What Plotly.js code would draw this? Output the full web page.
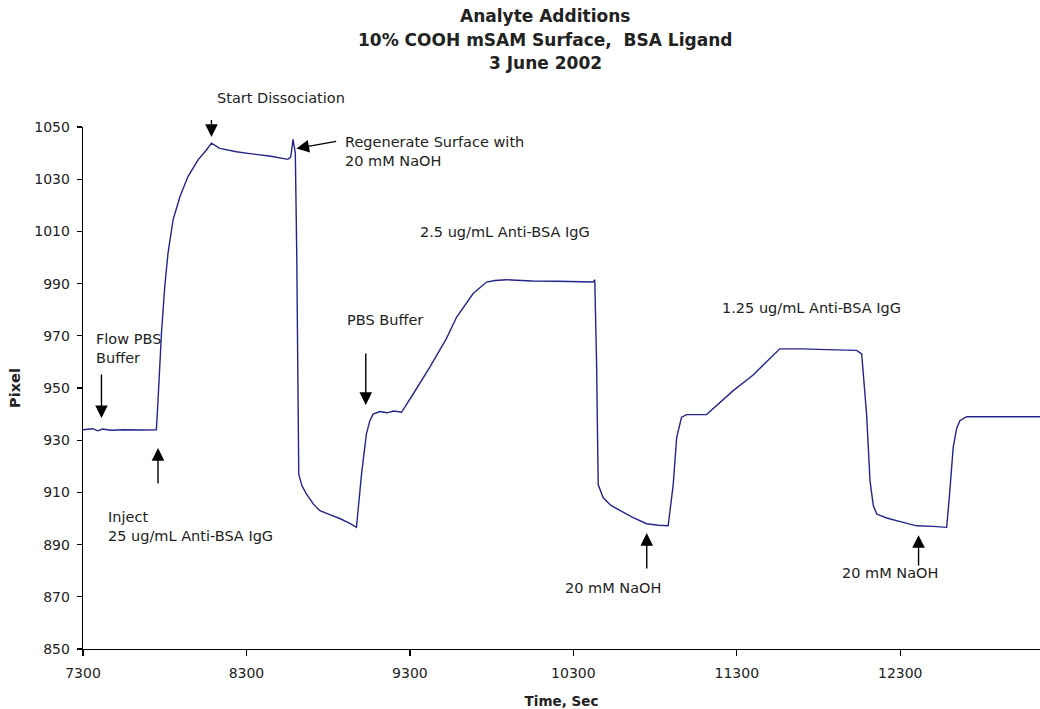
<!DOCTYPE html>
<html>
<head>
<meta charset="utf-8">
<script src="https://cdn.plot.ly/plotly-3.0.1.min.js"></script>
<style>html,body{margin:0;padding:0;background:#fff}#chart{width:1040px;height:709px}</style>
</head>
<body>
<div id="chart"></div>
<script>
// Time (s) and detector pixel readings
const timeSec = [
  7300, 7360, 7390, 7420, 7470, 7550, 7650, 7749, 7759, 7780, 7800, 7820, 7851, 7893, 7942,
  8004, 8055, 8086, 8136, 8239, 8320, 8450, 8553, 8571, 8585, 8599, 8608, 8614,
  8620, 8640, 8667, 8710, 8749, 8810, 8871, 8930, 8973, 9004, 9034, 9055, 9075, 9116, 9160,
  9200, 9249, 9320, 9422, 9524, 9586, 9687, 9769, 9820, 9891, 9950, 10050, 10197, 10330, 10421,
  10431, 10442, 10452, 10482, 10530, 10585, 10660, 10748, 10820, 10880, 10911, 10932, 10962, 10993, 11050,
  11115, 11278, 11400, 11563, 11700, 11850, 12033, 12064, 12094, 12115, 12135, 12156, 12217, 12300, 12400,
  12500, 12584, 12600, 12624, 12645, 12665, 12706, 12800, 13000, 13155
];
const pixelValue = [
  934.0, 934.4, 933.6, 934.3, 933.8, 934.0, 933.9, 934.0, 945.3, 970.9, 988.8, 1001.6, 1014.4, 1023.3, 1031.0,
  1037.4, 1041.2, 1043.8, 1041.8, 1040.5, 1039.8, 1038.8, 1037.6, 1038.5, 1045.3, 1040.0, 1000.0, 940.0,
  917.0, 912.5, 909.4, 905.5, 903.0, 901.5, 900.0, 898.2, 896.6, 917.0, 932.4, 937.5, 940.0, 941.0, 940.5,
  941.2, 940.7, 947.7, 958.0, 969.0, 977.2, 986.2, 990.6, 991.2, 991.5, 991.3, 991.0, 990.9, 990.7, 990.6,
  991.5, 960.0, 913.0, 908.0, 905.0, 903.0, 900.5, 898.0, 897.4, 897.2, 913.0, 931.0, 938.8, 939.8, 939.8,
  939.8, 949.0, 955.0, 965.0, 965.0, 964.7, 964.4, 963.1, 940.0, 914.5, 905.0, 901.7, 900.2, 898.8, 897.2,
  897.0, 896.6, 908.0, 927.3, 934.5, 937.5, 939.0, 939.0, 939.0, 939.0
];

const titleLines = ["Analyte Additions", "10% COOH mSAM Surface,  BSA Ligand", "3 June 2002"];
const yTicks = [850, 870, 890, 910, 930, 950, 970, 990, 1010, 1030, 1050];
const xTicks = [7300, 8300, 9300, 10300, 11300, 12300];

// Annotation labels and the points they refer to
const noteText = [
  "Flow PBS<br>Buffer",
  "Inject<br>25 ug/mL Anti-BSA IgG",
  "Regenerate Surface with<br>20 mM NaOH",
  "2.5 ug/mL Anti-BSA IgG",
  "PBS Buffer",
  "1.25 ug/mL Anti-BSA IgG",
  "20 mM NaOH",
  "20 mM NaOH"
];
const noteX = [7365, 7443, 8891, 9350, 8900, 11195, 10235, 11929];
const noteY = [965.1, 896.9, 1040.8, 1009.9, 976.0, 980.7, 873.4, 879.1];
const topNote = "Start Dissociation";
const topNoteX = 8106;
// arrows: head (x,y) and tail (x,y)
const arrowHeadX = [7413, 7759, 8086, 8606, 9030, 10749, 12412];
const arrowHeadY = [938.5, 927.0, 1046.2, 1041.8, 943.5, 894.4, 893.6];
const arrowTailX = [7413, 7759, 8086, 8858, 9030, 10749, 12412];
const arrowTailY = [955.7, 912.8, 1053.3, 1044.6, 963.8, 880.3, 881.4];

const FONT = "DejaVu Sans, Arial, sans-serif";
const annFont = {family: FONT, size: 14.5, color: "#222"};

const annotations = [];
titleLines.forEach((t, i) => {
  annotations.push({
    xref: "paper", yref: "paper", x: 0.483, y: (649 - (16 + i * 23.5)) / 522,
    text: "<b>" + t + "</b>", showarrow: false, xanchor: "center", yanchor: "middle",
    font: {family: FONT, size: 17, color: "#222"}
  });
});
noteText.forEach((t, i) => {
  annotations.push({
    xref: "x", yref: "y", x: noteX[i], y: noteY[i], text: t, showarrow: false,
    xanchor: "left", yanchor: "middle", align: "left", font: annFont
  });
});
annotations.push({
  xref: "x", yref: "paper", x: topNoteX, y: (649 - 98) / 522, text: topNote,
  showarrow: false, xanchor: "left", yanchor: "middle", font: annFont
});
arrowHeadX.forEach((hx, i) => {
  annotations.push({
    xref: "x", yref: "y", axref: "x", ayref: "y",
    x: hx, y: arrowHeadY[i], ax: arrowTailX[i], ay: arrowTailY[i],
    text: "", showarrow: true, arrowhead: 2, arrowsize: 1.8, arrowwidth: 1.4,
    arrowcolor: "#000", standoff: 0, startstandoff: 0
  });
});

const trace = {
  x: timeSec, y: pixelValue, type: "scatter", mode: "lines",
  line: {color: "#24248a", width: 1.4}, hoverinfo: "skip"
};

const layout = {
  width: 1040, height: 709,
  margin: {l: 83, r: 0, t: 127, b: 60},
  paper_bgcolor: "#fff", plot_bgcolor: "#fff",
  showlegend: false,
  font: {family: FONT, size: 14, color: "#222"},
  xaxis: {
    range: [7300, 13155], tickvals: xTicks, ticktext: xTicks.map(String),
    showgrid: false, zeroline: false, showline: true, linecolor: "#000", linewidth: 1.3,
    ticks: "outside", ticklen: 6, tickwidth: 1.3, tickcolor: "#000",
    tickfont: {family: FONT, size: 14, color: "#222"}, ticklabelstandoff: 5,
    title: {text: "<b>Time, Sec</b>", font: {family: FONT, size: 13.5, color: "#222"}, standoff: 17}
  },
  yaxis: {
    range: [850, 1050], tickvals: yTicks, ticktext: yTicks.map(String),
    showgrid: false, zeroline: false, showline: true, linecolor: "#000", linewidth: 1.3,
    ticks: "outside", ticklen: 5, tickwidth: 1.3, tickcolor: "#000",
    tickfont: {family: FONT, size: 14, color: "#222"}, ticklabelstandoff: 4,
    title: {text: "<b>Pixel</b>", font: {family: FONT, size: 14.5, color: "#222"}, standoff: 10}
  },
  annotations: annotations
};

Plotly.newPlot("chart", [trace], layout, {displayModeBar: false, staticPlot: true});
</script>
</body>
</html>
